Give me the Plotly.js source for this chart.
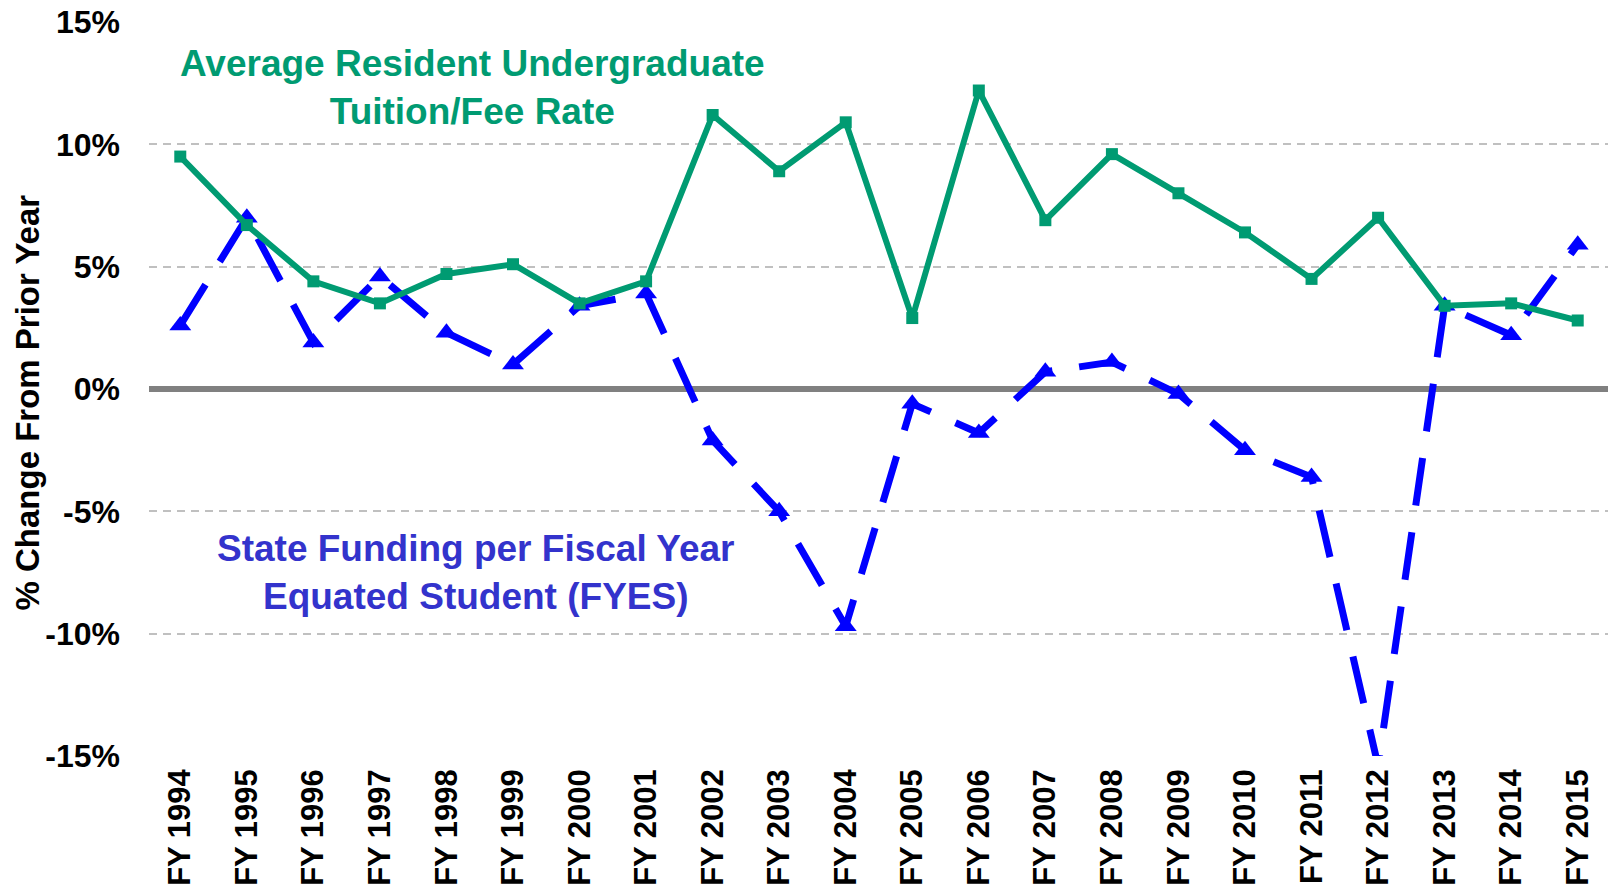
<!DOCTYPE html>
<html>
<head>
<meta charset="utf-8">
<script src="https://cdn.plot.ly/plotly-3.0.1.min.js"></script>
<style>html,body{margin:0;padding:0;background:#fff;}#chart{width:1608px;height:889px;}</style>
</head>
<body>
<div id="chart"></div>
<script>
var years = ["FY 1994","FY 1995","FY 1996","FY 1997","FY 1998","FY 1999","FY 2000","FY 2001","FY 2002","FY 2003","FY 2004","FY 2005","FY 2006","FY 2007","FY 2008","FY 2009","FY 2010","FY 2011","FY 2012","FY 2013","FY 2014","FY 2015"];
var tuition = [9.5, 6.7, 4.4, 3.5, 4.7, 5.1, 3.5, 4.4, 11.2, 8.9, 10.9, 2.9, 12.2, 6.9, 9.6, 8.0, 6.4, 4.5, 7.0, 3.4, 3.5, 2.8];
var funding = [2.6, 7.0, 1.9, 4.6, 2.3, 1.0, 3.4, 3.9, -2.1, -5.0, -9.7, -0.6, -1.8, 0.7, 1.1, -0.2, -2.5, -3.6, -15.4, 3.4, 2.2, 5.9];
var yTickVals = [-15, -10, -5, 0, 5, 10, 15];
var yTickText = ["-15%", "-10%", "-5%", "0%", "5%", "10%", "15%"];
var yTitle = "% Change From Prior Year";
var tuitionLabel = "Average Resident Undergraduate<br>Tuition/Fee Rate";
var fundingLabel = "State Funding per Fiscal Year<br>Equated Student (FYES)";

var FONT = "Arial, 'Liberation Sans', sans-serif";
var GREEN = "#009B72";
var BLUE = "#0000FF";

var traces = [
  {
    x: years, y: funding, type: "scatter", mode: "lines+markers",
    line: {color: BLUE, width: 7, dash: "48px,27px"},
    marker: {symbol: "triangle-up", size: 19, color: BLUE},
    cliponaxis: true, hoverinfo: "x+y"
  },
  {
    x: years, y: tuition, type: "scatter", mode: "lines+markers",
    line: {color: GREEN, width: 6},
    marker: {symbol: "square", size: 12, color: GREEN},
    cliponaxis: true, hoverinfo: "x+y"
  }
];

var layout = {
  width: 1608, height: 889,
  margin: {l: 149, r: 0, t: 22, b: 133, pad: 0},
  paper_bgcolor: "#ffffff", plot_bgcolor: "#ffffff",
  showlegend: false,
  font: {family: FONT, color: "#000000"},
  xaxis: {
    type: "category",
    range: [-0.47, 21.455],
    showgrid: false, zeroline: false, showline: false,
    ticks: "", tickangle: -90,
    tickfont: {family: FONT, size: 31, color: "#000", weight: "bold"},
    ticklabelstandoff: 6,
    fixedrange: true
  },
  yaxis: {
    range: [-15, 15],
    tickvals: yTickVals, ticktext: yTickText,
    showgrid: true, gridcolor: "#C0C0C0", gridwidth: 2, griddash: "8px,6px",
    zeroline: true, zerolinecolor: "#808080", zerolinewidth: 6,
    showline: false, ticks: "",
    tickfont: {family: FONT, size: 32, color: "#000", weight: "bold"},
    ticklabelstandoff: 28,
    fixedrange: true
  },
  annotations: [
    {xref: "paper", yref: "paper", x: -0.0836, y: 0.4816, xanchor: "center", yanchor: "middle",
     text: yTitle, showarrow: false, textangle: -90,
     font: {family: FONT, size: 33, color: "#000", weight: "bold"}},
    {xref: "paper", yref: "paper", x: 0.2219, y: 0.9112, xanchor: "center", yanchor: "middle",
     text: tuitionLabel, showarrow: false, align: "center",
     font: {family: FONT, size: 37, color: GREEN, weight: "bold"}},
    {xref: "paper", yref: "paper", x: 0.2236, y: 0.2497, xanchor: "center", yanchor: "middle",
     text: fundingLabel, showarrow: false, align: "center",
     font: {family: FONT, size: 37, color: "#3333CC", weight: "bold"}}
  ]
};

Plotly.newPlot("chart", traces, layout, {displayModeBar: false, staticPlot: true});
</script>
</body>
</html>
